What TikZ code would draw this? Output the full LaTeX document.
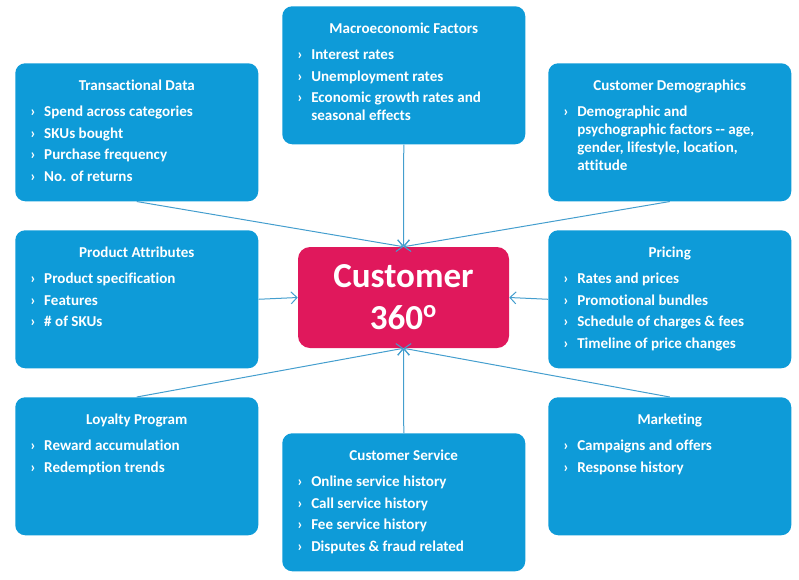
\documentclass[tikz,border=0pt]{standalone}
\usepackage{fontspec}
\setmainfont{Carlito}[Ligatures=NoCommon]
\usepackage{tikz}
\usetikzlibrary{arrows.meta}

\newdimen\pxu \pxu=0.75pt % one pixel of the picture
\definecolor{boxblue}{RGB}{14,155,216}
\definecolor{hubred}{RGB}{224,24,92}
\definecolor{linkblue}{RGB}{68,158,206}

% one bullet item, hanging indent for wrapped lines
\newcommand{\itm}{\par\hangindent=14\pxu\hangafter=1\makebox[14\pxu][l]{›}}
% box body: centered title, then the items, top aligned
\newcommand{\boxbody}[2]{\parbox[c][138\pxu][t]{213\pxu}{%
  \parindent=0pt\baselineskip=18\pxu\parskip=3.7\pxu
  {\centering\rule{0pt}{27\pxu}#1\par}\vspace{4.5\pxu}\raggedright #2\par}}

\begin{document}
\begin{tikzpicture}[x=0.75pt,y=-0.75pt,
  infobox/.style={fill=boxblue,text=white,rounded corners=7.5pt,anchor=north west,
    inner xsep=11.25pt,inner ysep=0pt,font=\bfseries\fontsize{11.3}{13.5}\selectfont},
  hub/.style={fill=hubred,text=white,rounded corners=9pt,minimum width=158.25pt,
    minimum height=75.75pt,align=center,font=\bfseries\fontsize{26.3}{31.5}\selectfont},
  link/.style={draw=linkblue,line width=0.75pt,-{Straight Barb[length=4.5pt,width=9pt]}}]
  \useasboundingbox (0,0) rectangle (799,579); % whole picture

  \node[hub] (hub) at (403.5,297.5) {Customer\\360\textsuperscript{o}}; % centre box

  % top row
  \node[infobox] (trans) at (15,63) {\boxbody{Transactional Data}{%
    \itm Spend across categories \itm SKUs bought \itm Purchase frequency \itm No. of returns}};
  \node[infobox] (macro) at (282,6) {\boxbody{Macroeconomic Factors}{%
    \itm Interest rates \itm Unemployment rates \itm Economic growth rates and\newline seasonal effects}};
  \node[infobox] (demo) at (548,63) {\boxbody{Customer Demographics}{%
    \itm Demographic and\newline psychographic factors -{}- age,\newline gender, lifestyle, location,\newline attitude}};

  % middle row
  \node[infobox] (prod) at (15,230) {\boxbody{Product Attributes}{%
    \itm Product specification \itm Features \itm \# of SKUs}};
  \node[infobox] (price) at (548,230) {\boxbody{Pricing}{%
    \itm Rates and prices \itm Promotional bundles \itm Schedule of charges \& fees
    \itm Timeline of price changes}};

  % bottom row
  \node[infobox] (loyal) at (15,397) {\boxbody{Loyalty Program}{%
    \itm Reward accumulation \itm Redemption trends}};
  \node[infobox] (serv) at (282,433) {\boxbody{Customer Service}{%
    \itm Online service history \itm Call service history \itm Fee service history
    \itm Disputes \& fraud related}};
  \node[infobox] (mark) at (548,397) {\boxbody{Marketing}{%
    \itm Campaigns and offers \itm Response history}};

  % links into the centre
  \draw[link] (trans.south) -- (hub.north);
  \draw[link] (macro.south) -- (hub.north);
  \draw[link] (demo.south) -- (hub.north);
  \draw[link] (prod.east) -- (hub.west);
  \draw[link] (price.west) -- (hub.east);
  \draw[link] (loyal.north) -- (hub.south);
  \draw[link] (serv.north) -- (hub.south);
  \draw[link] (mark.north) -- (hub.south);
\end{tikzpicture}
\end{document}
